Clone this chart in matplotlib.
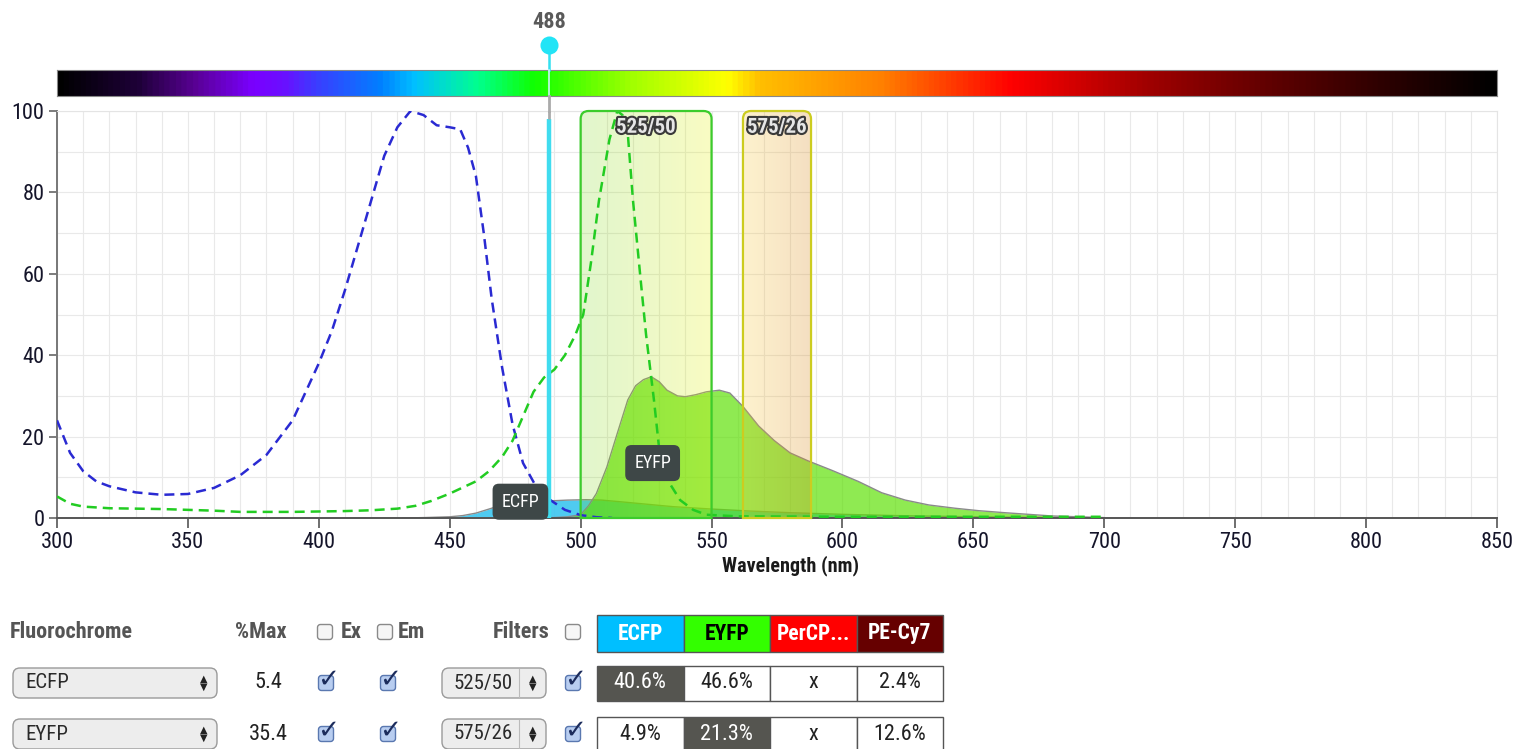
import numpy as np
import matplotlib
matplotlib.use("Agg")
import matplotlib.pyplot as plt
from matplotlib.patches import FancyBboxPatch, PathPatch, Rectangle
from matplotlib.path import Path
from matplotlib.colors import LinearSegmentedColormap, to_rgba
import matplotlib.patheffects as pe
import matplotlib.transforms as mtransforms
from matplotlib import font_manager

_names = {f.name for f in font_manager.fontManager.ttflist}
_pref = [n for n in ['Roboto Condensed', 'Liberation Sans Narrow', 'Open Sans Condensed',
                     'Roboto', 'DejaVu Sans'] if n in _names]
plt.rcParams['font.family'] = _pref + ['DejaVu Sans']

# ---------------- data ----------------
ecfp_ex_nm = [300, 305, 310, 315, 320, 330, 340, 350, 360, 370, 380, 390, 400, 405, 410,
              415, 420, 425, 430, 435, 440, 445, 450, 454, 457, 460, 463, 466, 470, 474,
              478, 483, 488, 494, 500, 506, 512]
ecfp_ex = [24, 16, 11.5, 9, 7.8, 6.3, 5.7, 5.9, 7.4, 10.5, 15.5, 24, 38, 46, 56,
           67, 78, 89, 96, 100, 99, 96.5, 96, 95.5, 91, 84, 70, 54, 37, 23,
           13.5, 7.7, 4.6, 2, 0.7, 0.2, 0]

eyfp_ex_nm = [300, 305, 310, 320, 330, 340, 350, 360, 370, 380, 390, 400, 410, 420, 430,
              437, 443, 450, 455, 460, 465, 470, 474, 478, 482, 486, 490, 494, 498, 501,
              504, 507, 511, 514, 516, 518, 520, 523, 525, 528, 530, 534, 538, 543, 548,
              560, 600, 650, 700]
eyfp_ex = [5.3, 3.5, 2.8, 2.4, 2.3, 2.2, 2.0, 1.8, 1.5, 1.5, 1.5, 1.6, 1.7, 1.9, 2.3,
           3.0, 4.2, 6.0, 7.5, 9.0, 11.5, 15, 19, 25, 31, 34.5, 36.5, 40, 45, 50,
           63, 78, 93, 100, 99, 94.5, 78, 58, 45, 29, 17, 8.5, 4.4, 2.0, 0.8,
           0.4, 0.3, 0.3, 0.3]

ecfp_em_nm = [432, 440, 450, 455, 460, 465, 470, 475, 480, 488, 495, 502, 508, 515, 525,
              535, 550, 565, 580, 600, 620, 650, 680, 700]
ecfp_em = [0, 0.1, 0.3, 0.6, 1.2, 2.2, 3.2, 3.8, 4.1, 4.2, 4.4, 4.5, 4.4, 4.0, 3.4,
           2.8, 2.2, 1.7, 1.3, 0.9, 0.6, 0.3, 0.1, 0]

eyfp_em_nm = [480, 490, 495, 500, 503, 506, 510, 514, 518, 521, 524, 527, 530, 533, 537,
              540, 544, 548, 553, 557, 562, 568, 574, 580, 587, 596, 606, 615, 624, 633,
              643, 652, 662, 680, 700]
eyfp_em = [0, 0.1, 0.3, 0.8, 3, 6, 12.5, 20.8, 29, 32.5, 34, 34.7, 33.5, 31.4, 30,
           29.8, 30.3, 31, 31.4, 30.7, 27.4, 22.6, 19, 16, 14, 11.7, 9, 6.2, 4.4, 3.2,
           2.4, 1.8, 1.3, 0.5, 0.1]

laser_nm = 488
laser_height = 98

filter_names = ['525/50', '575/26']
filter_centers = [525, 575]
filter_widths = [50, 26]

dye_labels = ['ECFP', 'EYFP']
dye_label_pos_nm = [477, 527.5]
dye_label_pos_val = [4, 13.5]

spectrum_nm = [300, 330, 352, 374, 386, 398, 423, 436, 460, 482, 519, 556, 568, 615,
               665, 717, 764, 810, 850]
spectrum_colors = ['#000000', '#1e0038', '#5a0096', '#7a00ff', '#6a10ff', '#3c3cff',
                   '#0080ff', '#00c0ff', '#00ff90', '#10ff00', '#a0ff00', '#ffff00',
                   '#ffc000', '#ff8000', '#ff0000', '#a00000', '#600000', '#2a0000',
                   '#000000']

fluorochromes = ['ECFP', 'EYFP']
pct_max = ['5.4', '35.4']
row_filters = ['525/50', '575/26']
channels = ['ECFP', 'EYFP', 'PerCP...', 'PE-Cy7']
channel_colors = ['#00bfff', '#33ff00', '#ff0000', '#660000']
channel_text_colors = ['white', 'black', 'white', 'white']
spill_rows = [['40.6%', '46.6%', 'x', '2.4%'],
              ['4.9%', '21.3%', 'x', '12.6%']]

# ---------------- figure layout ----------------
W, H = 1525, 749
fig = plt.figure(figsize=(W / 100, H / 100), dpi=100)
L, R, T, B = 57, 1497, 111, 518
ax = fig.add_axes([L / W, 1 - B / H, (R - L) / W, (B - T) / H])
cax = fig.add_axes([L / W, 1 - 96 / H, (R - L) / W, 26 / H])
ui = fig.add_axes([0, 0, 1, 1], zorder=5)
ui.set_xlim(0, W)
ui.set_ylim(H, 0)
ui.axis('off')
ui.patch.set_alpha(0)

# ---------------- spectrum bar ----------------
pos = [(n - 300) / 550 for n in spectrum_nm]
cmap = LinearSegmentedColormap.from_list('spec', list(zip(pos, spectrum_colors)))
cax.imshow(np.linspace(300, 850, 1100)[None, :], extent=(300, 850, 0, 1),
           aspect='auto', cmap=cmap, vmin=300, vmax=850)
cax.set_xticks([])
cax.set_yticks([])
for s in cax.spines.values():
    s.set_color('#888888')
    s.set_linewidth(0.8)

# ---------------- main axes ----------------
ax.set_xlim(300, 850)
ax.set_ylim(0, 100)
ax.set_xticks(range(300, 851, 50))
ax.set_yticks(range(0, 101, 20))
ax.set_xticks(np.arange(300, 851, 10), minor=True)
ax.set_yticks(np.arange(0, 101, 10), minor=True)
ax.grid(which='both', color='#e9e9e9', lw=0.8)
ax.set_axisbelow(True)
ax.tick_params(which='minor', length=0)
ax.tick_params(axis='x', which='major', length=7, width=1.2, color='#555555',
               labelsize=16, labelcolor='#15152a', pad=3)
ax.tick_params(axis='y', which='major', length=6, width=1.2, color='#666666',
               labelsize=16, labelcolor='#15152a', pad=3)
ax.spines['top'].set_color('#e4e4e4')
ax.spines['right'].set_color('#e4e4e4')
ax.spines['left'].set_color('#777777')
ax.spines['left'].set_linewidth(1.4)
ax.spines['bottom'].set_color('#555555')
ax.spines['bottom'].set_linewidth(1.4)
ax.set_xlabel('Wavelength (nm)', fontsize=14.5, fontweight='bold', color='#1a1a1a')
ax.xaxis.set_label_coords((790 - L) / (R - L), (B - 566) / (B - T))
ax.xaxis.label.set_va('center')

# emission fills
ax.fill_between(ecfp_em_nm, ecfp_em, color='#3cc6f0', alpha=0.9, lw=0, zorder=2)
ax.plot(ecfp_em_nm, ecfp_em, color='#8a8a8a', lw=1, zorder=2.1)
ax.fill_between(eyfp_em_nm, eyfp_em, color='#5ae000', alpha=0.68, lw=0, zorder=2.2)
ax.plot(eyfp_em_nm, eyfp_em, color='#8a8a8a', lw=1, zorder=2.3)

# filter boxes
px_x = (R - L) / 550.0
px_y = (B - T) / 100.0
rad = 8
filter_fill = [(('#6cd400', 0.20), ('#e8f000', 0.24)),
               (('#fac830', 0.24), ('#d88a20', 0.28))]
filter_edge = ['#3ccc2c', '#cccc20']
for name, c, w, fills, ec in zip(filter_names, filter_centers, filter_widths,
                                 filter_fill, filter_edge):
    x0, x1 = c - w / 2, c + w / 2
    rx, ry = rad / px_x, rad / px_y
    verts = [(x0, 0), (x0, 100 - ry), (x0, 100), (x0 + rx, 100), (x1 - rx, 100),
             (x1, 100), (x1, 100 - ry), (x1, 0), (x0, 0)]
    codes = [Path.MOVETO, Path.LINETO, Path.CURVE3, Path.CURVE3, Path.LINETO,
             Path.CURVE3, Path.CURVE3, Path.LINETO, Path.CLOSEPOLY]
    path = Path(verts, codes)
    clip = PathPatch(path, fc='none', ec='none', transform=ax.transData)
    ax.add_patch(clip)
    c0, c1 = np.array(to_rgba(fills[0][0])), np.array(to_rgba(fills[1][0]))
    c0[3], c1[3] = fills[0][1], fills[1][1]
    t = np.linspace(0, 1, 200)[:, None]
    grad = (c0 * (1 - t) + c1 * t)[None, :, :]
    im = ax.imshow(grad, extent=(x0, x1, 0, 100), aspect='auto', zorder=3,
                   interpolation='bilinear')
    im.set_clip_path(clip)
    ax.add_patch(PathPatch(path, fc='none', ec=ec, lw=1.6, zorder=5, clip_on=False))
    ax.text(c, 96, name, ha='center', va='center', fontsize=15, fontweight='bold',
            color='#e6e6e6', zorder=8,
            path_effects=[pe.withStroke(linewidth=3, foreground='#3a3a3a')])
ax.set_xlim(300, 850)
ax.set_ylim(0, 100)

# excitation dashed lines
ax.plot(ecfp_ex_nm, ecfp_ex, color='#2a2ad2', lw=1.8, ls=(0, (4, 2.4)), zorder=4)
ax.plot(eyfp_ex_nm, eyfp_ex, color='#22cc22', lw=1.8, ls=(0, (4, 2.4)), zorder=4)

# laser line
ax.plot([laser_nm, laser_nm], [0, laser_height], color='#40dcef', lw=3.2,
        solid_capstyle='butt', zorder=6)
ax.plot([laser_nm, laser_nm], [laser_height, 100], color='#aaaaaa', lw=2,
        solid_capstyle='butt', zorder=6, clip_on=False)
blend = mtransforms.blended_transform_factory(ax.transData, ui.transData)
ui.plot([laser_nm, laser_nm], [45, 70], transform=blend, color='#33e0f0', lw=1.8)
ui.plot([laser_nm, laser_nm], [70, 96], transform=blend, color='#c8f6f6', lw=1.2)
ui.plot([laser_nm, laser_nm], [96, 111], transform=blend, color='#aaaaaa', lw=2)
ui.plot([laser_nm], [45], 'o', ms=13, color='#22e4f6', mec='none', transform=blend)
ui.text(laser_nm, 22, str(laser_nm), transform=blend, ha='center', va='center',
        fontsize=16, fontweight='bold', color='#5a5a5a')

# dye labels
for lab, xn, yv in zip(dye_labels, dye_label_pos_nm, dye_label_pos_val):
    ax.text(xn, yv, lab, ha='center', va='center', fontsize=13, color='white', zorder=9,
            bbox=dict(boxstyle='round,pad=0.5,rounding_size=0.35', fc='#3e4747', ec='none'))

# ---------------- control table ----------------
def checkbox(x, y, checked):
    s = 15
    ui.add_patch(FancyBboxPatch((x - s / 2, y - s / 2), s, s,
                                boxstyle='round,pad=0,rounding_size=3',
                                fc='#b8cdf0' if checked else '#f6f6f6',
                                ec='#5a78b0' if checked else '#8a8a8a', lw=1))
    if checked:
        ui.text(x + 2, y - 3, '\u2713', ha='center', va='center', fontsize=19,
                fontweight='bold', color='#1c2c5c', family='DejaVu Sans')


def dropdown(x, y, w, text, sep=None):
    ui.add_patch(FancyBboxPatch((x, y - 15), w, 30, boxstyle='round,pad=0,rounding_size=7',
                                fc='#ededed', ec='#9a9a9a', lw=1))
    ui.text(x + 12, y, text, ha='left', va='center', fontsize=15, color='#2a2a2a')
    ax_x = x + w - 13
    if sep is not None:
        ui.plot([x + sep, x + sep], [y - 14, y + 14], color='#bbbbbb', lw=0.8)
    ui.text(ax_x, y - 4, '\u25B2', ha='center', va='center', fontsize=7, color='#222222',
            family='DejaVu Sans')
    ui.text(ax_x, y + 4, '\u25BC', ha='center', va='center', fontsize=7, color='#222222',
            family='DejaVu Sans')


hdr_y = 632
hstyle = dict(va='center', fontsize=16, fontweight='bold', color='#555555')
ui.text(10, hdr_y, 'Fluorochrome', ha='left', **hstyle)
ui.text(261, hdr_y, '%Max', ha='center', **hstyle)
checkbox(325, hdr_y, False)
ui.text(341, hdr_y, 'Ex', ha='left', **hstyle)
checkbox(385, hdr_y, False)
ui.text(398, hdr_y, 'Em', ha='left', **hstyle)
ui.text(549, hdr_y, 'Filters', ha='right', **hstyle)
checkbox(573, hdr_y, False)

cx0, cw = 597, 86.5
for j, (name, col, tc) in enumerate(zip(channels, channel_colors, channel_text_colors)):
    ui.add_patch(Rectangle((cx0 + j * cw, 615), cw, 37, fc=col, ec='#555555', lw=1))
    ui.text(cx0 + (j + 0.5) * cw, 633.5, name, ha='center', va='center', fontsize=15.5,
            fontweight='bold', color=tc)

row_centers = [683, 734]
for i, (fl, pm, flt, vals) in enumerate(zip(fluorochromes, pct_max, row_filters, spill_rows)):
    yc = row_centers[i]
    dropdown(13, yc, 204, fl)
    ui.text(268, yc, pm, ha='center', va='center', fontsize=16, color='#222222')
    checkbox(326, yc, True)
    checkbox(388, yc, True)
    dropdown(442, yc, 104, flt, sep=77)
    checkbox(573, yc, True)
    for j, v in enumerate(vals):
        dark = (j == i)
        ui.add_patch(Rectangle((cx0 + j * cw, yc - 17.5), cw, 35,
                               fc='#555550' if dark else 'white', ec='#555555', lw=1))
        ui.text(cx0 + (j + 0.5) * cw, yc, v, ha='center', va='center', fontsize=16,
                color='white' if dark else '#222222')

fig.savefig('out.png', dpi=100)
